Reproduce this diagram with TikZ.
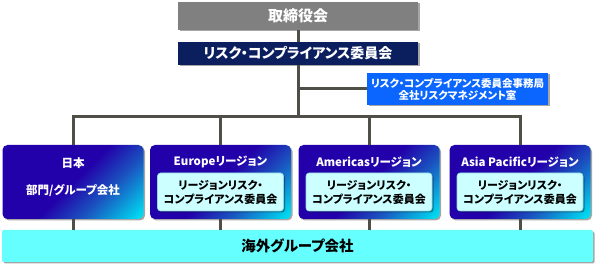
\documentclass[tikz,border=0pt]{standalone}
\usepackage{fontspec}
\setmainfont{Noto Sans CJK JP}[RawFeature=+palt]
\usetikzlibrary{shadows}
\definecolor{graybox}{HTML}{808080}
\definecolor{navybox}{HTML}{0B1F5F}
\definecolor{bluebox}{HTML}{0A66FF}
\definecolor{regdark}{HTML}{2200AA}
\definecolor{regmid}{HTML}{1A55C0}
\definecolor{regcyan}{HTML}{00D8F0}
\definecolor{innerfill}{HTML}{CCFFFF}
\definecolor{innerdraw}{HTML}{8FD8E0}
\definecolor{barfill}{HTML}{66FFFF}
\definecolor{linecol}{HTML}{4F4F48}
\pgfdeclarehorizontalshading{regshade}{100bp}{color(0bp)=(regdark); color(50bp)=(regdark); color(65bp)=(regmid); color(83bp)=(regcyan); color(100bp)=(regcyan)}
\begin{document}
\begin{tikzpicture}[x=1pt,y=-1pt,
  shad/.style={drop shadow={shadow xshift=1.5pt,shadow yshift=-1.5pt,opacity=0.35,fill=black}},
  conn/.style={draw=linecol,line width=3pt},
  board/.style={fill=graybox,text=white,font=\bfseries\fontsize{15}{18}\selectfont,minimum width=240pt,minimum height=28pt,inner sep=0pt,shad},
  committee/.style={fill=navybox,text=white,font=\bfseries\fontsize{14}{17}\selectfont,minimum width=240pt,minimum height=23pt,inner sep=0pt,shad},
  secretariat/.style={fill=bluebox,text=white,font=\bfseries\fontsize{10.5}{12}\selectfont,minimum width=181pt,minimum height=32pt,inner sep=0pt,align=center,shad},
  region/.style={shading=regshade,shading angle=-45,rounded corners=5pt,minimum width=141pt,minimum height=74pt,inner sep=0pt,shad},
  regtitle/.style={text=white,font=\bfseries\fontsize{11.5}{14}\selectfont,inner sep=0pt},
  innerbox/.style={fill=innerfill,draw=innerdraw,line width=0.6pt,rounded corners=3pt,minimum width=126pt,minimum height=38pt,inner sep=0pt,align=center,font=\bfseries\fontsize{11}{14}\selectfont,shad},
  overseas/.style={fill=barfill,rounded corners=2pt,minimum width=591pt,minimum height=32pt,inner sep=0pt,font=\bfseries\fontsize{14.5}{17}\selectfont,shad}
]
\useasboundingbox (0,0) rectangle (598,267);
% nodes
\node[board] (board) at (298,16) {取締役会};
\node[committee] (risk) at (298,53.5) {リスク・コンプライアンス委員会};
\node[secretariat] (sec) at (457.5,89) {リスク・コンプライアンス委員会事務局\\全社リスクマネジメント室};
\node[region] (jp) at (73,182) {};
\node[region] (eu) at (220.5,182) {};
\node[region] (am) at (369,182) {};
\node[region] (ap) at (520,182) {};
\node[regtitle] (jpt) at (73,163) {日本};
\node[regtitle] (jps) at (73,191) {部門/グループ会社};
\node[regtitle] (eut) at (220.5,162) {Europeリージョン};
\node[regtitle] (amt) at (369,162) {Americasリージョン};
\node[regtitle] (apt) at (520,162) {Asia Pacificリージョン};
\node[innerbox] (euin) at (220.5,192) {リージョンリスク・\\コンプライアンス委員会};
\node[innerbox] (amin) at (369,192) {リージョンリスク・\\コンプライアンス委員会};
\node[innerbox] (apin) at (520,192) {リージョンリスク・\\コンプライアンス委員会};
\node[overseas] (bar) at (297.5,246) {海外グループ会社};
% connectors
\coordinate (bus) at (298,117);
\draw[conn] (board.south) -- (risk.north);
\draw[conn] (risk.south) -- (bus);
\draw[conn] (risk.south |- sec.west) -- (sec.west);
\draw[conn] (jp.north) -- (jp.north |- bus) -- (ap.north |- bus) -- (ap.north);
\draw[conn] (eu.north |- bus) -- (eu.north);
\draw[conn] (am.north |- bus) -- (am.north);
\draw[conn] (jp.south) -- (jp.south |- bar.north);
\draw[conn] (eu.south) -- (eu.south |- bar.north);
\draw[conn] (am.south) -- (am.south |- bar.north);
\draw[conn] (ap.south) -- (ap.south |- bar.north);
\end{tikzpicture}
\end{document}
